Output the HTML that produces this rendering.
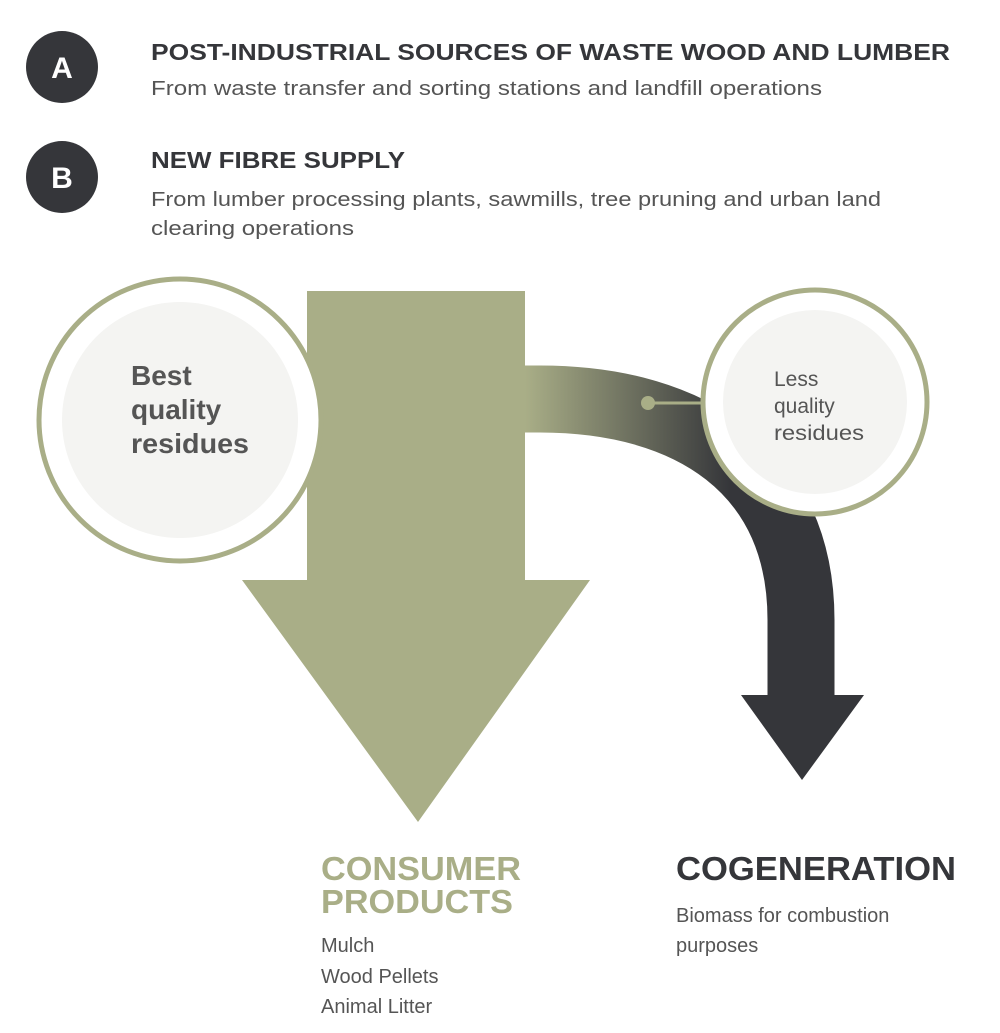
<!DOCTYPE html>
<html><head><meta charset="utf-8"><style>
html,body{margin:0;padding:0;background:#fff;}
svg{display:block;font-family:"Liberation Sans",sans-serif;}
</style></head><body>
<svg width="1000" height="1033" viewBox="0 0 1000 1033" xmlns="http://www.w3.org/2000/svg">
<defs>
<linearGradient id="g" gradientUnits="userSpaceOnUse" x1="525" y1="0" x2="730" y2="0">
<stop offset="0" stop-color="#a9ae87"/><stop offset="1" stop-color="#35363a"/>
</linearGradient>
</defs>
<circle cx="62" cy="67" r="36" fill="#35363a"/>
<text x="62" y="78" font-size="30" font-weight="bold" fill="#fff" text-anchor="middle">A</text>
<circle cx="62" cy="177" r="36" fill="#35363a"/>
<text x="62" y="188" font-size="30" font-weight="bold" fill="#fff" text-anchor="middle">B</text>
<text x="151" y="60" font-size="23" font-weight="bold" fill="#35363a" textLength="799" lengthAdjust="spacingAndGlyphs">POST-INDUSTRIAL SOURCES OF WASTE WOOD AND LUMBER</text>
<text x="151" y="95" font-size="20" fill="#555" textLength="671" lengthAdjust="spacingAndGlyphs">From waste transfer and sorting stations and landfill operations</text>
<text x="151" y="168" font-size="23" font-weight="bold" fill="#35363a" textLength="254" lengthAdjust="spacingAndGlyphs">NEW FIBRE SUPPLY</text>
<text x="151" y="206" font-size="20" fill="#555" textLength="730" lengthAdjust="spacingAndGlyphs">From lumber processing plants, sawmills, tree pruning and urban land</text>
<text x="151" y="235" font-size="20" fill="#555" textLength="203" lengthAdjust="spacingAndGlyphs">clearing operations</text>

<path d="M520,399 L540,399 C690,399 801,470 801,620 L801,700" fill="none" stroke="url(#g)" stroke-width="67"/>
<polygon points="741,695 864,695 802,780" fill="#35363a"/>

<polygon points="307,291 525,291 525,580 590,580 418,822 242,580 307,580" fill="#a9ae87"/>

<circle cx="180" cy="420" r="141" fill="#fff" stroke="#a9ae87" stroke-width="5"/>
<circle cx="180" cy="420" r="118" fill="#f4f4f2"/>
<text font-size="28" font-weight="bold" fill="#555"><tspan x="131" y="385">Best</tspan><tspan x="131" y="419">quality</tspan><tspan x="131" y="453" textLength="118" lengthAdjust="spacingAndGlyphs">residues</tspan></text>

<line x1="648" y1="403" x2="702" y2="403" stroke="#a9ae87" stroke-width="3"/>
<circle cx="648" cy="403" r="7" fill="#a9ae87"/>

<circle cx="815" cy="402" r="112" fill="#fff" stroke="#a9ae87" stroke-width="5"/>
<circle cx="815" cy="402" r="92" fill="#f4f4f2"/>
<text font-size="21" fill="#555"><tspan x="774" y="386">Less</tspan><tspan x="774" y="413">quality</tspan><tspan x="774" y="440" textLength="90" lengthAdjust="spacingAndGlyphs">residues</tspan></text>

<text x="321" y="880" font-size="33" font-weight="bold" fill="#a9ae87" textLength="200" lengthAdjust="spacingAndGlyphs">CONSUMER</text>
<text x="321" y="913" font-size="33" font-weight="bold" fill="#a9ae87" textLength="192" lengthAdjust="spacingAndGlyphs">PRODUCTS</text>
<text font-size="20" fill="#555"><tspan x="321" y="952">Mulch</tspan><tspan x="321" y="983">Wood Pellets</tspan><tspan x="321" y="1013">Animal Litter</tspan></text>
<text x="676" y="880" font-size="33" font-weight="bold" fill="#35363a" textLength="280" lengthAdjust="spacingAndGlyphs">COGENERATION</text>
<text font-size="20" fill="#555"><tspan x="676" y="922">Biomass for combustion</tspan><tspan x="676" y="952">purposes</tspan></text>
</svg>
</body></html>
